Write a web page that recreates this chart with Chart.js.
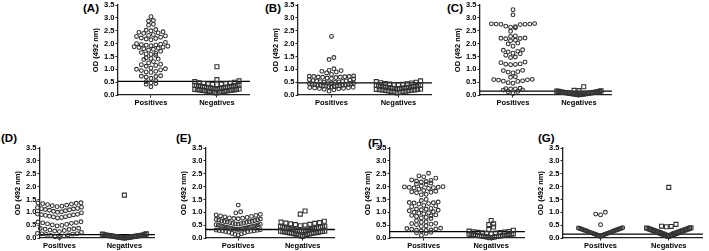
<!DOCTYPE html>
<html>
<head>
<meta charset="utf-8">
<script src="https://cdn.jsdelivr.net/npm/chart.js@4/dist/chart.umd.min.js"></script>
<style>
  body{margin:0;background:#fff;}
  #fig{position:relative;width:709px;height:251px;overflow:hidden;font-family:Arial,"Liberation Sans",sans-serif;}
  #fig canvas{position:absolute;}
  .tag{position:absolute;font-weight:bold;font-size:11.5px;line-height:12px;color:#000;}
</style>
</head>
<body>
<div id="fig"></div>
<script>
// categories, ticks, panel tags
const CATS=['Positives','Negatives'];
const Y_TICKS=[0,0.5,1,1.5,2,2.5,3,3.5];
const PANELS=['(A)','(B)','(C)','(D)','(E)','(F)','(G)'];
const CUTOFFS=[0.53,0.47,0.15,0.13,0.33,0.25,0.15];

// OD values
const A_POS=[3.05,2.90,2.88,2.75,2.72,2.55,2.52,2.50,2.46,2.44,2.42,2.40,2.35,2.32,2.30,2.28,2.25,2.22,2.20,2.18,2.15,2.05,2.00,1.98,1.96,1.95,1.94,1.92,1.90,1.88,1.86,1.85,1.82,1.80,1.78,1.75,1.70,1.65,1.62,1.60,1.58,1.55,1.45,1.42,1.40,1.38,1.30,1.25,1.20,1.18,1.15,1.12,1.05,1.02,1.00,0.98,0.95,0.92,0.90,0.88,0.75,0.73,0.72,0.70,0.65,0.55,0.52,0.48,0.45,0.42,0.32];
const A_NEG=[1.10,0.60,0.55,0.52,0.50,0.48,0.46,0.45,0.44,0.43,0.42,0.41,0.40,0.39,0.38,0.38,0.37,0.36,0.36,0.35,0.34,0.34,0.33,0.32,0.32,0.31,0.30,0.30,0.29,0.28,0.28,0.27,0.26,0.26,0.25,0.24,0.24,0.23,0.22,0.22,0.21,0.20,0.20,0.19,0.18,0.18,0.17,0.16,0.15,0.14,0.13,0.12,0.11,0.10,0.09,0.08];
const B_POS=[2.28,1.46,1.38,1.02,0.96,0.95,0.92,0.90,0.86,0.80,0.74,0.73,0.72,0.72,0.71,0.70,0.70,0.69,0.68,0.66,0.64,0.62,0.60,0.58,0.56,0.55,0.54,0.53,0.52,0.51,0.50,0.49,0.48,0.47,0.46,0.45,0.44,0.43,0.42,0.41,0.40,0.39,0.38,0.37,0.36,0.35,0.35,0.34,0.33,0.32,0.31,0.30,0.29,0.28,0.27,0.26,0.25,0.24,0.22,0.20,0.15];
const B_NEG=[0.55,0.52,0.50,0.48,0.47,0.45,0.44,0.43,0.42,0.41,0.40,0.39,0.38,0.37,0.36,0.35,0.34,0.33,0.32,0.31,0.30,0.30,0.29,0.28,0.28,0.27,0.26,0.26,0.25,0.24,0.24,0.23,0.22,0.22,0.21,0.20,0.20,0.19,0.18,0.17,0.16,0.15,0.14,0.13,0.12,0.10,0.08];
const C_POS=[3.32,3.12,2.78,2.77,2.76,2.76,2.75,2.75,2.74,2.68,2.66,2.64,2.62,2.48,2.30,2.28,2.22,2.21,2.20,2.19,2.13,2.11,2.02,1.99,1.90,1.76,1.74,1.70,1.68,1.63,1.61,1.55,1.48,1.46,1.28,1.26,1.21,1.20,1.19,1.18,0.96,0.95,0.91,0.89,0.86,0.71,0.69,0.61,0.60,0.59,0.58,0.55,0.54,0.53,0.48,0.46,0.26,0.25,0.24,0.24,0.20,0.19,0.14,0.13,0.06];
const C_NEG=[0.32,0.18,0.17,0.16,0.15,0.14,0.14,0.13,0.13,0.12,0.12,0.11,0.11,0.10,0.10,0.09,0.09,0.08,0.08,0.07,0.07,0.06,0.06,0.05,0.05,0.04,0.04,0.03,0.03,0.02,0.02,0.01];
const D_POS=[1.37,1.36,1.35,1.34,1.32,1.30,1.28,1.26,1.24,1.22,1.20,1.18,1.15,1.14,1.13,1.11,1.10,1.08,1.06,1.04,1.02,1.00,0.98,0.93,0.92,0.91,0.90,0.88,0.87,0.85,0.83,0.82,0.80,0.78,0.63,0.62,0.60,0.59,0.57,0.55,0.53,0.51,0.49,0.47,0.38,0.37,0.36,0.34,0.33,0.31,0.29,0.27,0.25,0.22,0.18,0.17,0.16,0.15,0.14,0.12,0.10,0.08,0.05,0.02];
const D_NEG=[1.67,0.16,0.15,0.14,0.13,0.12,0.12,0.11,0.11,0.10,0.10,0.09,0.09,0.08,0.08,0.07,0.07,0.06,0.06,0.05,0.05,0.04,0.04,0.03,0.03,0.02,0.02,0.01,0.01,0.00];
const E_POS=[1.28,1.02,0.98,0.92,0.90,0.88,0.86,0.84,0.82,0.80,0.78,0.77,0.76,0.75,0.74,0.72,0.71,0.70,0.68,0.66,0.65,0.64,0.63,0.62,0.61,0.60,0.58,0.57,0.56,0.55,0.54,0.53,0.52,0.51,0.50,0.48,0.47,0.46,0.45,0.44,0.43,0.42,0.41,0.40,0.39,0.38,0.37,0.36,0.35,0.34,0.34,0.33,0.32,0.31,0.30,0.29,0.28,0.27,0.26,0.25,0.24,0.22,0.20,0.18,0.16,0.14,0.12];
const E_NEG=[1.05,0.93,0.65,0.62,0.60,0.58,0.57,0.55,0.53,0.52,0.50,0.48,0.46,0.45,0.44,0.43,0.42,0.41,0.40,0.39,0.38,0.37,0.36,0.35,0.34,0.33,0.32,0.31,0.30,0.30,0.29,0.28,0.28,0.27,0.26,0.26,0.25,0.24,0.24,0.23,0.22,0.22,0.21,0.20,0.20,0.19,0.18,0.17,0.16,0.15,0.14,0.12,0.10,0.08,0.06];
const F_POS=[2.52,2.42,2.38,2.33,2.26,2.24,2.22,2.20,2.18,2.14,2.10,2.08,2.02,2.00,1.99,1.98,1.97,1.96,1.95,1.93,1.90,1.85,1.82,1.80,1.78,1.76,1.70,1.68,1.50,1.46,1.40,1.38,1.37,1.36,1.34,1.32,1.27,1.25,1.22,1.15,1.13,1.12,1.10,1.08,1.06,1.02,1.00,0.98,0.96,0.94,0.90,0.88,0.86,0.84,0.80,0.78,0.76,0.68,0.63,0.61,0.57,0.56,0.54,0.52,0.47,0.45,0.38,0.37,0.35,0.34,0.31,0.30,0.29,0.27,0.22,0.20,0.18,0.10];
const F_NEG=[0.68,0.55,0.52,0.43,0.33,0.30,0.27,0.25,0.24,0.23,0.22,0.21,0.20,0.19,0.18,0.17,0.16,0.15,0.15,0.14,0.14,0.13,0.12,0.12,0.11,0.10,0.10,0.09,0.08,0.08,0.07,0.06,0.06,0.05,0.04,0.03,0.02,0.01];
const G_POS=[1.00,0.93,0.90,0.52,0.40,0.39,0.38,0.37,0.36,0.35,0.34,0.33,0.32,0.31,0.30,0.29,0.28,0.27,0.26,0.25,0.24,0.23,0.22,0.21,0.20,0.19,0.18,0.17,0.16,0.15,0.14,0.13,0.12,0.11,0.10,0.08,0.06];
const G_NEG=[1.97,0.53,0.46,0.45,0.44,0.40,0.39,0.38,0.37,0.36,0.35,0.34,0.33,0.32,0.31,0.30,0.29,0.28,0.27,0.26,0.25,0.24,0.23,0.22,0.21,0.20,0.19,0.18,0.17,0.16,0.15,0.14,0.13,0.12,0.11,0.10,0.08,0.06];

const POS=[A_POS,B_POS,C_POS,D_POS,E_POS,F_POS,G_POS];
const NEG=[A_NEG,B_NEG,C_NEG,D_NEG,E_NEG,F_NEG,G_NEG];

// where each panel sits (pixels) and how its swarm is laid out
const GEO=[
  {axisX:118,axisEnd:255,top:0,  xMin:-0.5, xMax:1.5,rowH:0.15,tagX:83, tagY:2},
  {axisX:298,axisEnd:437,top:0,  xMin:-0.5, xMax:1.5,rowH:0.15,tagX:265,tagY:2},
  {axisX:480,axisEnd:617,top:0,  xMin:-0.5, xMax:1.5,rowH:0.15,tagX:447,tagY:2},
  {axisX:40, axisEnd:160,top:143,xMin:-0.3, xMax:1.47,rowH:0.2,tagX:1,  tagY:132},
  {axisX:206,axisEnd:340,top:143,xMin:-0.5, xMax:1.5,rowH:0.2, tagX:176,tagY:132},
  {axisX:390,axisEnd:530,top:143,xMin:-0.5, xMax:1.5,rowH:0.15,tagX:368,tagY:137},
  {axisX:563,axisEnd:708,top:143,xMin:-0.55,xMax:1.5,rowH:0.35,tagX:538,tagY:132},
];

const Y_AX=28, X_AX=16, PAD_TOP=3, PLOT_H=92;
const STEP=5, CAP=46;
const FONT='Arial, "Liberation Sans", sans-serif';
const MARK='#333', AXIS='#222', TXT='#000';

// prism-like column scatter: rows from the bottom, lowest value in the middle
function swarm(vals,center,rowH,unitPx){
  const s=vals.slice().sort((a,b)=>a-b);
  const rows=[]; let cur=null;
  s.forEach(v=>{
    if(!cur||v-cur.start>rowH+1e-9){ cur={start:v,vals:[]}; rows.push(cur); }
    cur.vals.push(v);
  });
  const pts=[];
  rows.forEach(r=>{
    const n=r.vals.length;
    const gap=(n>1?Math.min(STEP,CAP/(n-1)):0)/unitPx;
    const slots=[];
    for(let k=0;k<n;k++) slots.push(k-(n-1)/2);
    slots.sort((a,b)=>Math.abs(a)-Math.abs(b)||a-b);
    r.vals.forEach((v,i)=>pts.push({x:center+slots[i]*gap,y:v}));
  });
  return pts;
}

const fig=document.getElementById('fig');
GEO.forEach((g,i)=>{
  const tag=document.createElement('div');
  tag.className='tag'; tag.textContent=PANELS[i];
  tag.style.left=g.tagX+'px'; tag.style.top=g.tagY+'px';
  fig.appendChild(tag);

  const cv=document.createElement('canvas');
  cv.width=g.axisEnd-g.axisX+Y_AX; cv.height=PAD_TOP+PLOT_H+X_AX;
  cv.style.left=(g.axisX-Y_AX)+'px'; cv.style.top=g.top+'px';
  fig.appendChild(cv);

  const unitPx=(g.axisEnd-g.axisX)/(g.xMax-g.xMin);
  const tickFont={family:FONT,size:7.5,weight:'bold',lineHeight:0.8};

  new Chart(cv,{
    type:'scatter',
    data:{datasets:[
      {data:swarm(POS[i],0,g.rowH,unitPx),pointStyle:'circle',pointRadius:1.9,
       borderWidth:1.1,borderColor:MARK,backgroundColor:'rgba(0,0,0,0)',clip:false},
      {data:swarm(NEG[i],1,g.rowH,unitPx),pointStyle:'rect',pointRadius:2.8,
       borderWidth:1.1,borderColor:MARK,backgroundColor:'rgba(0,0,0,0)',clip:false},
      {type:'line',data:[{x:g.xMin,y:CUTOFFS[i]},{x:g.xMax,y:CUTOFFS[i]}],
       borderColor:'#000',borderWidth:1.3,pointRadius:0,fill:false,tension:0},
    ]},
    options:{
      responsive:false,animation:false,events:[],
      layout:{padding:{top:PAD_TOP,left:0,right:0,bottom:0}},
      plugins:{legend:{display:false},tooltip:{enabled:false}},
      scales:{
        x:{type:'linear',min:g.xMin,max:g.xMax,
          afterBuildTicks:s=>{ s.ticks=[0,1].map(v=>({value:v})); },
          afterFit:s=>{ s.height=X_AX; },
          ticks:{callback:v=>CATS[v],font:{family:FONT,size:7.5,weight:'bold'},color:TXT,
                 padding:1,maxRotation:0,autoSkip:false},
          grid:{drawOnChartArea:false,drawTicks:true,tickLength:2.5,color:AXIS,lineWidth:1},
          border:{color:AXIS,width:1.3}},
        y:{min:0,max:3.5,
          afterBuildTicks:s=>{ s.ticks=Y_TICKS.map(v=>({value:v})); },
          afterFit:s=>{ s.width=Y_AX; },
          ticks:{callback:v=>v.toFixed(1),font:tickFont,color:TXT,padding:1},
          title:{display:true,text:'OD (492 nm)',color:TXT,
                 font:{family:FONT,size:7.5,weight:'bold'},padding:{top:1,bottom:0}},
          grid:{drawOnChartArea:false,drawTicks:true,tickLength:2.5,color:AXIS,lineWidth:1},
          border:{color:AXIS,width:1.3}}
      }
    }
  });
});
</script>
</body>
</html>
